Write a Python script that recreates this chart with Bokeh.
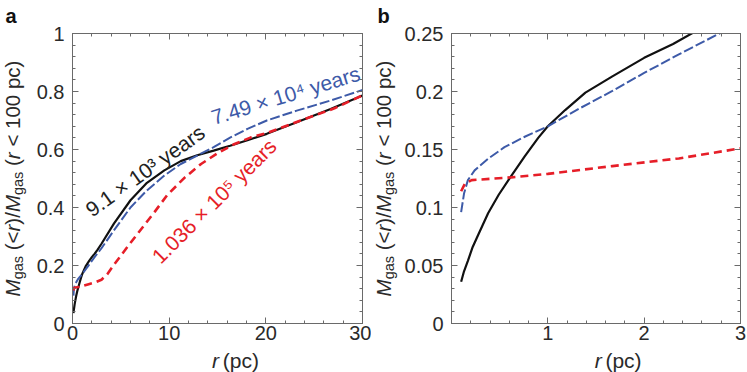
import math
from bokeh.plotting import figure
from bokeh.models import Range1d, FixedTicker, LinearAxis, Label
from bokeh.layouts import row, column
from bokeh.embed import file_html
from bokeh.resources import INLINE

# ---------------- data ----------------
r_black = [0.1, 0.13, 0.17, 0.22, 0.28, 0.38, 0.49, 0.61, 0.76, 0.9, 1.0, 1.18, 1.39, 1.67,
           2.0, 2.3, 2.6, 3.0, 4.3, 6.0, 7.7, 9.5, 11.2, 12.9, 14.6, 16.3, 18.1, 20.1, 23.2,
           26.7, 30.0]
m_black = [0.036, 0.045, 0.054, 0.066, 0.077, 0.095, 0.111, 0.126, 0.144, 0.160, 0.170, 0.184,
           0.199, 0.213, 0.229, 0.241, 0.255, 0.275, 0.345, 0.425, 0.485, 0.528, 0.560, 0.580,
           0.596, 0.613, 0.632, 0.654, 0.694, 0.740, 0.786]

r_blue = [0.1, 0.13, 0.17, 0.24, 0.38, 0.55, 0.76, 1.0, 1.32, 1.67, 2.0, 2.36, 2.78, 3.0,
          4.3, 6.0, 7.7, 9.5, 11.2, 12.9, 14.6, 16.3, 18.1, 20.1, 23.2, 26.7, 30.0]
m_blue = [0.096, 0.112, 0.1236, 0.132, 0.142, 0.152, 0.161, 0.170, 0.185, 0.2005, 0.216,
          0.232, 0.250, 0.2595, 0.322, 0.400, 0.459, 0.510, 0.550, 0.579, 0.608, 0.641,
          0.671, 0.700, 0.734, 0.769, 0.805]

r_red = [0.1, 0.14, 0.21, 0.62, 1.0, 1.67, 2.36, 3.0, 3.6, 4.3, 5.7, 7.1, 8.5, 9.8, 11.6,
         13.3, 15.0, 16.7, 18.4, 20.2, 23.6, 27.1, 30.0]
m_red = [0.114, 0.1207, 0.1236, 0.126, 0.129, 0.1357, 0.1423, 0.151, 0.170, 0.203, 0.265,
         0.325, 0.385, 0.443, 0.503, 0.550, 0.587, 0.618, 0.641, 0.658, 0.700, 0.742, 0.787]

xticks_a = [0, 10, 20, 30]
xlabels_a = ["0", "10", "20", "30"]
yticks_a = [0, 0.2, 0.4, 0.6, 0.8, 1.0]
ylabels_a = ["0", "0.2", "0.4", "0.6", "0.8", "1"]
xticks_b = [1, 2, 3]
xlabels_b = ["1", "2", "3"]
yticks_b = [0, 0.05, 0.1, 0.15, 0.2, 0.25]
ylabels_b = ["0", "0.05", "0.1", "0.15", "0.2", "0.25"]

label_black = "9.1 × 10³ years"
label_blue = "7.49 × 10⁴ years"
label_red = "1.036 × 10⁵ years"

# ---------------- styling ----------------
FONT = "Liberation Sans"
FRAME = "#6a6a6a"
TXT = "#2a2a2a"
BLACK = "#111111"
BLUE = "#3d5aa8"
RED = "#e61e28"
H_TOTAL = 372
TOP = 33
FRAME_H = 290
BOTTOM = 25
H_MAIN = TOP + FRAME_H + BOTTOM
H_XLAB = H_TOTAL - H_MAIN
TICK_FS = 20
YLAB_FS = 20.5
SUB_FS = 14.5
XLAB_FS = 21
MID = 0.3465  # em distance from alphabetic baseline to the middle of the text box

ADV = {'M': 833, 'g': 556, 'a': 556, 's': 500, ' ': 278, '(': 333, '<': 584, 'r': 333,
       ')': 333, '/': 278, '1': 556, '0': 556, 'p': 556, 'c': 500}


def tw(s, size):
    return sum(ADV[c] for c in s) * size / 1000.0


def minor(lo, hi, step):
    n = int(round((hi - lo) / step))
    return [lo + i * step for i in range(n + 1)]


def style_axis(ax, ticker, labels, ticks, show_labels=True, standoff=5):
    ax.ticker = ticker
    ax.axis_line_color = FRAME
    ax.major_tick_line_color = FRAME
    ax.minor_tick_line_color = FRAME
    ax.major_tick_in = 6
    ax.major_tick_out = 0
    ax.minor_tick_in = 3
    ax.minor_tick_out = 0
    ax.major_label_standoff = standoff
    if show_labels:
        ax.major_label_overrides = {t: l for t, l in zip(ticks, labels)}
        ax.major_label_text_font = FONT
        ax.major_label_text_font_size = f"{TICK_FS}px"
        ax.major_label_text_color = TXT
    else:
        ax.major_label_text_font_size = "0px"
        ax.major_label_text_color = None
        ax.major_label_standoff = 0


def text_fig(w, h):
    f = figure(width=w, height=h, x_range=Range1d(0, w), y_range=Range1d(0, h), title=None,
               output_backend="svg", toolbar_location=None, min_border=0,
               x_axis_location=None, y_axis_location=None)
    f.outline_line_color = None
    f.grid.visible = False
    f.background_fill_color = "white"
    f.border_fill_color = "white"
    return f


def ylabel_fig(w, x_base, letter, letter_x):
    # x_base: position (px from figure left) of the label's alphabetic baseline
    f = text_fig(w, H_TOTAL)
    pieces = [("M", "italic", YLAB_FS, 0), ("gas", "normal", SUB_FS, 1),
              (" (<", "normal", YLAB_FS, 0), ("r", "italic", YLAB_FS, 0),
              (")/", "normal", YLAB_FS, 0), ("M", "italic", YLAB_FS, 0),
              ("gas", "normal", SUB_FS, 1), (" (", "normal", YLAB_FS, 0),
              ("r", "italic", YLAB_FS, 0), (" < 100 pc)", "normal", YLAB_FS, 0)]
    total = sum(tw(t, s) for t, _, s, _ in pieces)
    centre = H_TOTAL - (TOP + FRAME_H / 2.0)
    pos = centre - total / 2.0
    for t, st, s, sub in pieces:
        lead = len(t) - len(t.lstrip(" "))
        base = x_base + (4 if sub else 0)
        f.add_layout(Label(x=base - MID * s, y=pos + tw(" " * lead, s),
                           text=t.strip(), angle=math.pi / 2, text_align="left",
                           text_baseline="middle", text_font=FONT, text_font_style=st,
                           text_font_size=f"{s}px", text_color=TXT))
        pos += tw(t, s)
    f.add_layout(Label(x=letter_x, y=H_TOTAL - (22 - MID * 20), text=letter, text_font=FONT,
                       text_font_style="bold", text_font_size="20px", text_color="#111111",
                       text_baseline="middle", text_align="left"))
    return f


def xlabel_fig(w, frame_left, frame_w):
    f = text_fig(w, H_XLAB)
    pieces = [("r", "italic"), (" (pc)", "normal")]
    total = sum(tw(t, XLAB_FS) for t, _ in pieces)
    pos = frame_left + frame_w / 2.0 - total / 2.0
    for t, st in pieces:
        lead = len(t) - len(t.lstrip(" "))
        f.add_layout(Label(x=pos + tw(" " * lead, XLAB_FS),
                           y=H_TOTAL - (367 - MID * XLAB_FS), text=t.strip(),
                           text_align="left", text_baseline="middle", text_font=FONT,
                           text_font_style=st, text_font_size=f"{XLAB_FS}px", text_color=TXT))
        pos += tw(t, XLAB_FS)
    return f


def make_panel(width, bl, br, xr, yr, xt, xl, xminor, yt, yl, yminor):
    p = figure(width=width, height=H_MAIN, x_range=Range1d(*xr), y_range=Range1d(*yr),
               title=None, output_backend="svg", toolbar_location=None,
               min_border_left=bl, min_border_right=br, min_border_top=TOP,
               min_border_bottom=BOTTOM)
    p.outline_line_color = FRAME
    p.grid.visible = False
    p.background_fill_color = "white"
    p.border_fill_color = "white"

    style_axis(p.xaxis[0], FixedTicker(ticks=xt, minor_ticks=xminor), xl, xt, True, 2)
    style_axis(p.yaxis[0], FixedTicker(ticks=yt, minor_ticks=yminor), yl, yt, True, 8)
    ax_top = LinearAxis()
    style_axis(ax_top, FixedTicker(ticks=xt, minor_ticks=xminor), xl, xt, False)
    p.add_layout(ax_top, "above")
    ax_right = LinearAxis()
    style_axis(ax_right, FixedTicker(ticks=yt, minor_ticks=yminor), yl, yt, False)
    p.add_layout(ax_right, "right")

    p.line(r_black, m_black, line_color=BLACK, line_width=2.2)
    p.line(r_blue, m_blue, line_color=BLUE, line_width=2.0, line_dash="10 3")
    p.line(r_red, m_red, line_color=RED, line_width=2.6, line_dash="8 5")
    return p


# panel a  (page x 27 -> 371, frame 72 -> 362)
WA, BLA, BRA = 344, 45, 9
pa = make_panel(WA, BLA, BRA, (0, 30), (0, 1), xticks_a, xlabels_a, minor(0, 30, 2),
                yticks_a, ylabels_a, minor(0, 1, 0.04))
pa.add_layout(Label(x=1.58, y=0.386, text=label_black, angle=35.5, angle_units="deg",
                    text_font=FONT, text_font_size="21px", text_color="#222222",
                    text_baseline="middle"))
pa.add_layout(Label(x=14.40, y=0.709, text=label_blue, angle=17, angle_units="deg",
                    text_font=FONT, text_font_size="21px", text_color=BLUE,
                    text_baseline="middle"))
pa.add_layout(Label(x=8.59, y=0.220, text=label_red, angle=45, angle_units="deg",
                    text_font=FONT, text_font_size="21px", text_color=RED,
                    text_baseline="middle"))

# panel b  (page x 398 -> 747, frame 451 -> 740)
WB, BLB, BRB = 349, 53, 7
pb = make_panel(WB, BLB, BRB, (0, 3), (0, 0.25), xticks_b, xlabels_b, minor(0, 3, 0.2),
                yticks_b, ylabels_b, minor(0, 0.25, 0.01))

ya = ylabel_fig(27, 19, "a", 5)     # page x 0 -> 27
yb = ylabel_fig(27, 19, "b", 6)     # page x 371 -> 398
xa = xlabel_fig(WA, BLA, WA - BLA - BRA)
xb = xlabel_fig(WB, BLB, WB - BLB - BRB)

layout = row(ya, column(pa, xa), yb, column(pb, xb))
open("out.html", "w").write(file_html(layout, INLINE))
